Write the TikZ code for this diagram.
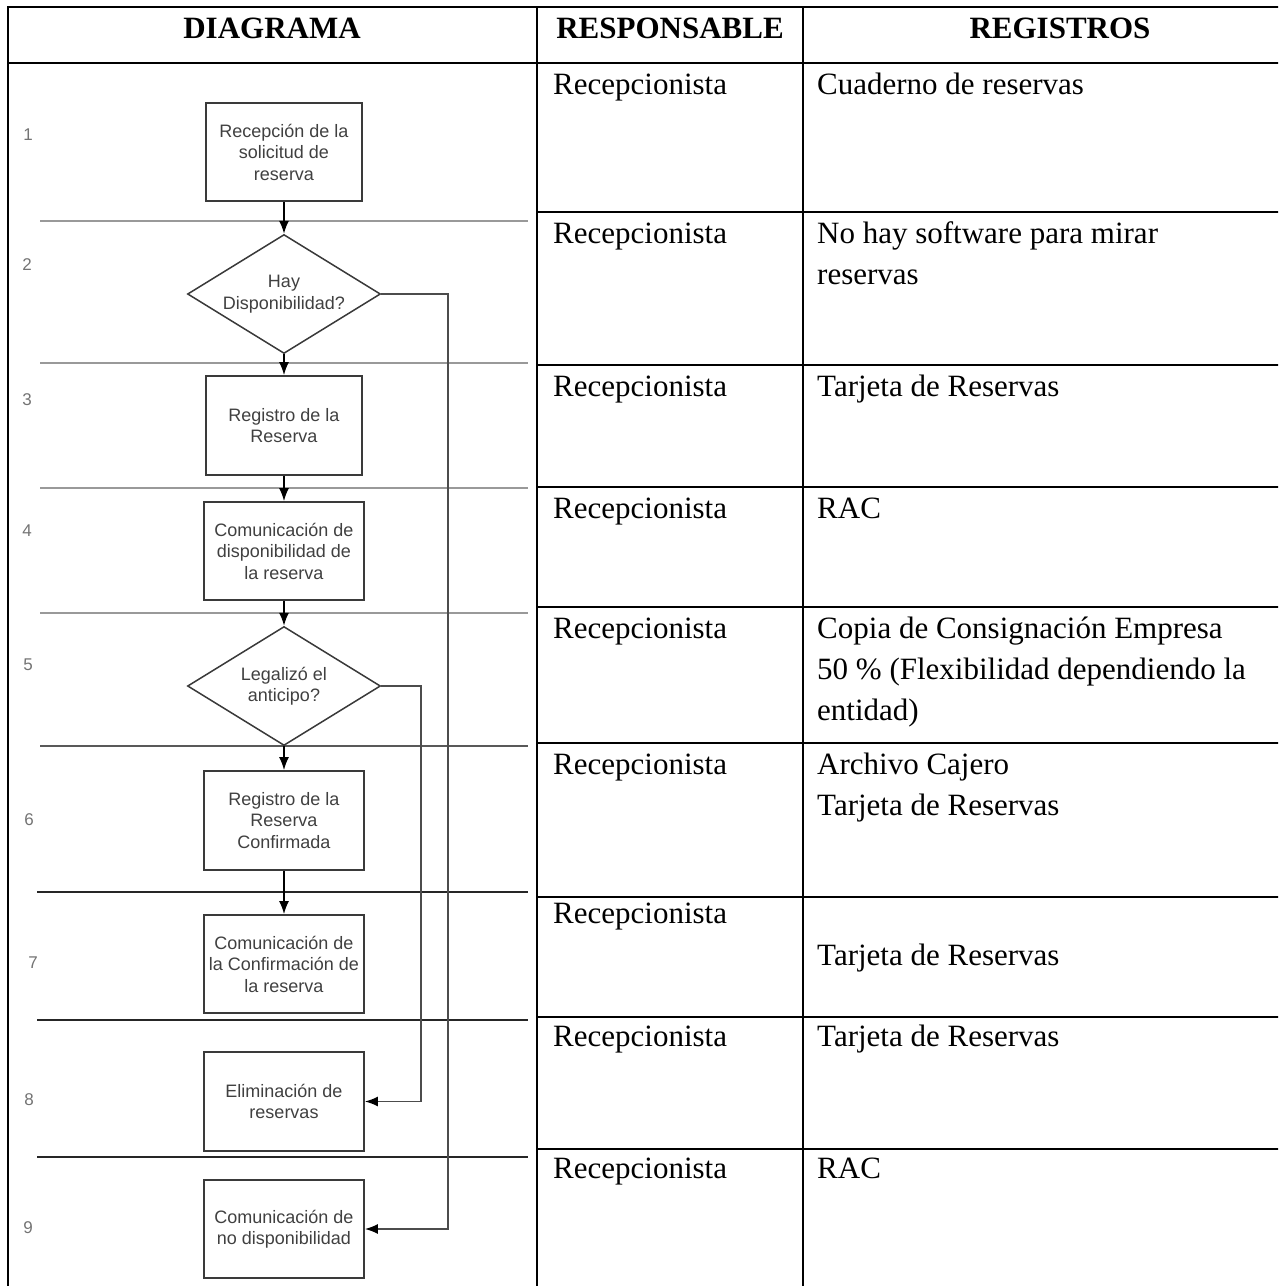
\documentclass[tikz,border=0pt]{standalone}
\usepackage{fontspec}
\setmainfont{Liberation Serif}
\newfontfamily\flowfont{Liberation Sans}
\usepackage{tikz}
\definecolor{boxline}{HTML}{3A3A3A}
\definecolor{boxtext}{HTML}{404040}
\tikzstyle{process}=[rectangle,draw=boxline,line width=1.8pt,minimum width=160pt,
minimum height=98pt,inner sep=0pt,align=center,text=boxtext,
font=\flowfont\fontsize{18}{21.5}\selectfont]
\tikzstyle{decision}=[diamond,draw=boxline,line width=1.5pt,aspect=1.62,
minimum width=193pt,minimum height=119pt,inner sep=0pt,align=center,text=boxtext,
font=\flowfont\fontsize{18}{21.5}\selectfont]
\tikzstyle{cell}=[anchor=north west,inner sep=0pt,align=left,
font=\fontsize{31}{41}\selectfont]
\usetikzlibrary{arrows.meta,positioning,shapes.geometric}

\begin{document}
\begin{tikzpicture}[x=1pt,y=-1pt]
  \tikzstyle{head}=[anchor=base,inner sep=0pt,font=\fontsize{31}{41}\selectfont\bfseries]
  \tikzstyle{lanenum}=[inner sep=0pt,text=black!55,font=\flowfont\fontsize{17}{19}\selectfont]
  \tikzstyle{lane}=[line width=2.4pt,draw=black!40]
  \tikzstyle{dark lane}=[line width=2pt,draw=black!85]
  \tikzstyle{grid}=[line width=2.6pt,draw=black]
  \tikzstyle{flow}=[line width=1.5pt,draw=black,-{Latex[length=13pt,width=10pt]}]
  \tikzstyle{back}=[line width=1.5pt,draw=black!70,-{Latex[length=13pt,width=10pt,color=black]}]

  \useasboundingbox (0,0) rectangle (1278,1286);
  \clip (0,0) rectangle (1278,1286);

  \draw[grid] (8,1300) -- (8,7) -- (1320,7);
  \draw[grid] (8,63) -- (1320,63);
  \draw[grid] (537,7) -- (537,1300);
  \draw[grid] (803,7) -- (803,1300);
  \draw[grid] (537,212) -- (1320,212);
  \draw[grid] (537,365) -- (1320,365);
  \draw[grid] (537,487) -- (1320,487);
  \draw[grid] (537,607) -- (1320,607);
  \draw[grid] (537,743) -- (1320,743);
  \draw[grid] (537,897) -- (1320,897);
  \draw[grid] (537,1017) -- (1320,1017);
  \draw[grid] (537,1149) -- (1320,1149);

  \node[head] (hdiag) at (272,38) {DIAGRAMA};
  \node[head] (hresp) at (670,38) {RESPONSABLE};
  \node[head] (hreg) at (1060,38) {REGISTROS};

  \draw[lane] (40,221) -- (528,221);
  \draw[lane] (40,363) -- (528,363);
  \draw[lane] (40,488) -- (528,488);
  \draw[lane] (40,613) -- (528,613);
  \draw[line width=2.2pt,draw=black!65] (40,746) -- (528,746);
  \draw[dark lane] (37,892) -- (528,892);
  \draw[dark lane] (37,1020) -- (528,1020);
  \draw[dark lane] (37,1157) -- (528,1157);

  \node[lanenum] (n1) at (28,135) {1};
  \node[lanenum] (n2) at (27,265) {2};
  \node[lanenum] (n3) at (27,400) {3};
  \node[lanenum] (n4) at (27,531) {4};
  \node[lanenum] (n5) at (28,665) {5};
  \node[lanenum] (n6) at (29,820) {6};
  \node[lanenum] (n7) at (33,963) {7};
  \node[lanenum] (n8) at (29,1100) {8};
  \node[lanenum] (n9) at (28,1228) {9};

  \node[process,minimum width=156pt] (recepcion) at (284,152) {Recepción de la\\solicitud de\\reserva};
  \node[decision] (hay) at (284,294) {Hay\\Disponibilidad?};
  \node[process,minimum width=156pt,minimum height=99pt] (registro) at (284,425.5) {Registro de la\\Reserva};
  \node[process] (comdisp) at (284,551) {Comunicación de\\disponibilidad de\\la reserva};
  \node[decision] (legalizo) at (284,686) {Legalizó el\\anticipo?};
  \node[process,minimum height=99pt] (confirmada) at (284,820.5) {Registro de la\\Reserva\\Confirmada};
  \node[process] (comconf) at (284,964) {Comunicación de\\la Confirmación de\\la reserva};
  \node[process,minimum height=99pt] (eliminacion) at (284,1101.5) {Eliminación de\\reservas};
  \node[process] (comnodisp) at (284,1229) {Comunicación de\\no disponibilidad};

  \path[flow] (recepcion) edge (hay);
  \path[flow] (hay) edge (registro);
  \path[flow] (registro) edge (comdisp);
  \path[flow] (comdisp) edge (legalizo);
  \path[flow] (legalizo) edge (confirmada);
  \path[flow] (confirmada) edge (comconf);

  \coordinate (nohay) at (448,294);
  \coordinate (nolegal) at (421,686);
  \draw[back] (hay.east) -- (nohay) |- (comnodisp.east);
  \draw[back] (legalizo.east) -- (nolegal) |- (eliminacion.east);

  \node[cell] (r1) at (553,66) {\strut Recepcionista};
  \node[cell] (r2) at (553,215) {\strut Recepcionista};
  \node[cell] (r3) at (553,368) {\strut Recepcionista};
  \node[cell] (r4) at (553,490) {\strut Recepcionista};
  \node[cell] (r5) at (553,610) {\strut Recepcionista};
  \node[cell] (r6) at (553,746) {\strut Recepcionista};
  \node[cell] (r7) at (553,895) {\strut Recepcionista};
  \node[cell] (r8) at (553,1018) {\strut Recepcionista};
  \node[cell] (r9) at (553,1150) {\strut Recepcionista};

  \node[cell] (g1) at (817,66) {\strut Cuaderno de reservas};
  \node[cell] (g2) at (817,215) {\strut No hay software para mirar\\reservas};
  \node[cell] (g3) at (817,368) {\strut Tarjeta de Reservas};
  \node[cell] (g4) at (817,490) {\strut RAC};
  \node[cell] (g5) at (817,610) {\strut Copia de Consignación Empresa\\50 \% (Flexibilidad dependiendo la\\entidad)};
  \node[cell] (g6) at (817,746) {\strut Archivo Cajero\\Tarjeta de Reservas};
  \node[cell] (g7) at (817,937) {\strut Tarjeta de Reservas};
  \node[cell] (g8) at (817,1018) {\strut Tarjeta de Reservas};
  \node[cell] (g9) at (817,1150) {\strut RAC};
\end{tikzpicture}
\end{document}
